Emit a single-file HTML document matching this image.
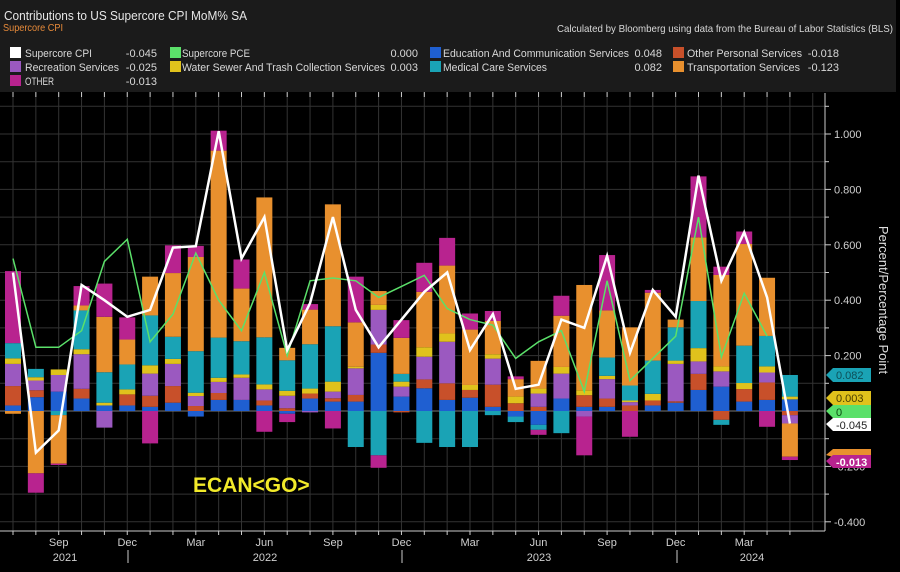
<!DOCTYPE html>
<html><head><meta charset="utf-8">
<style>
html,body{margin:0;padding:0;background:#000;}
body{width:900px;height:567px;overflow:hidden;font-family:"Liberation Sans",sans-serif;}
</style></head>
<body>
<svg id="c" width="900" height="567" xmlns="http://www.w3.org/2000/svg" font-family="Liberation Sans, sans-serif">
<rect x="0" y="0" width="900" height="567" fill="#000"/>
<rect x="0" y="0" width="896" height="92" fill="#1b1b1b"/>
<text x="4" y="20" fill="#e6e6e6" font-size="13" textLength="243" lengthAdjust="spacingAndGlyphs">Contributions to US Supercore CPI MoM% SA</text>
<text x="3" y="31" fill="#e88b3a" font-size="10.5" textLength="60" lengthAdjust="spacingAndGlyphs">Supercore CPI</text>
<text x="557" y="32" fill="#d8d8d8" font-size="10.5" textLength="336" lengthAdjust="spacingAndGlyphs">Calculated by Bloomberg using data from the Bureau of Labor Statistics (BLS)</text>
<g font-size="11" fill="#d8d8d8">
<rect x="10" y="47" width="11" height="11" fill="#fff"/><text x="25" y="57" textLength="67" lengthAdjust="spacingAndGlyphs">Supercore CPI</text><text x="157" y="57" text-anchor="end">-0.045</text>
<rect x="10" y="61" width="11" height="11" fill="#9b59c0"/><text x="25" y="71" textLength="94" lengthAdjust="spacingAndGlyphs">Recreation Services</text><text x="157" y="71" text-anchor="end">-0.025</text>
<rect x="10" y="75" width="11" height="11" fill="#b8238f"/><text x="25" y="85" textLength="29" lengthAdjust="spacingAndGlyphs">OTHER</text><text x="157" y="85" text-anchor="end">-0.013</text>
<rect x="170" y="47" width="11" height="11" fill="#5be06a"/><text x="182" y="57" textLength="68" lengthAdjust="spacingAndGlyphs">Supercore PCE</text><text x="418" y="57" text-anchor="end">0.000</text>
<rect x="170" y="61" width="11" height="11" fill="#e0c21c"/><text x="182" y="71" textLength="203" lengthAdjust="spacingAndGlyphs">Water Sewer And Trash Collection Services</text><text x="418" y="71" text-anchor="end">0.003</text>
<rect x="430" y="47" width="11" height="11" fill="#1f5fd1"/><text x="443" y="57" textLength="186" lengthAdjust="spacingAndGlyphs">Education And Communication Services</text><text x="662" y="57" text-anchor="end">0.048</text>
<rect x="430" y="61" width="11" height="11" fill="#1aa3b5"/><text x="443" y="71" textLength="104" lengthAdjust="spacingAndGlyphs">Medical Care Services</text><text x="662" y="71" text-anchor="end">0.082</text>
<rect x="673" y="47" width="11" height="11" fill="#c8502a"/><text x="687" y="57" textLength="115" lengthAdjust="spacingAndGlyphs">Other Personal Services</text><text x="839" y="57" text-anchor="end">-0.018</text>
<rect x="673" y="61" width="11" height="11" fill="#e8902e"/><text x="687" y="71" textLength="113" lengthAdjust="spacingAndGlyphs">Transportation Services</text><text x="839" y="71" text-anchor="end">-0.123</text>
</g>
<g id="grid"></g>
<g id="bars"></g>
<g id="lines"></g>
<text x="193" y="492" fill="#f2ea2a" font-size="21" font-weight="bold">ECAN&lt;GO&gt;</text>
<line x1="825" y1="93" x2="825" y2="531" stroke="#ccc" stroke-width="1"/>
<line x1="0" y1="531" x2="825" y2="531" stroke="#ccc" stroke-width="1"/>
<g id="axis" font-size="11" fill="#d0d0d0"></g>
<text transform="translate(879,300) rotate(90)" fill="#e0e0e0" font-size="13" text-anchor="middle">Percent/Percentage Point</text>
<g font-size="11">
<polygon points="826,375 833,368 871,368 871,382 833,382" fill="#1aa3b5"/><text x="836" y="379" fill="#0d4f58">0.082</text>
<polygon points="826,398 833,391 871,391 871,405 833,405" fill="#e0c21c"/><text x="836" y="402" fill="#4a3f00">0.003</text>
<polygon points="826,411 833,405 871,405 871,418 833,418" fill="#5be06a"/><text x="836" y="416" fill="#0c4a12">0</text>
<polygon points="826,424 833,418 871,418 871,431 833,431" fill="#fff"/><text x="836" y="429" fill="#222">-0.045</text>
<polygon points="826,455 833,449 871,449 871,457 833,457" fill="#e8902e"/>
<polygon points="826,461 833,455 871,455 871,468 833,468" fill="#b8238f"/><text x="836" y="466" fill="#fff" font-weight="bold">-0.013</text>
</g>
</svg>
<script>
var NS="http://www.w3.org/2000/svg";
function el(p,t,a){var e=document.createElementNS(NS,t);for(var k in a)e.setAttribute(k,a[k]);p.appendChild(e);return e;}
function Y(v){return 411-v*277;}
var X0=13,DX=22.85;
var cols=["#1f5fd1","#c8502a","#9b59c0","#e0c21c","#1aa3b5","#e8902e","#b8238f"];
var B=[
[.02,.07,.08,.02,.055,-.01,.26],
[.05,.025,.035,.012,.03,-.225,-.07],
[.07,0,.06,.02,-.015,-.175,-.005],
[.045,.035,.125,.018,.14,.018,.07],
[.02,0,-.06,.01,.11,.2,.12],
[.02,.04,0,.018,.09,.09,.08],
[.015,.04,.08,.03,.18,.14,-.117],
[.03,.06,.08,.018,.08,.23,.1],
[-.02,.018,.036,.012,.15,.34,.04],
[.04,.025,.04,.015,.145,.675,.072],
[.04,0,.08,.012,.12,.19,.105],
[.02,.018,.04,.018,.17,.505,-.075],
[-.01,.01,.045,.018,.11,.045,-.03],
[.045,.018,-.005,.018,.16,.125,.02],
[.034,.012,.024,.036,.2,.44,-.063],
[.034,.024,.096,.006,-.13,.16,.165],
[.21,.03,.125,.018,-.16,.05,-.045],
[.052,-.005,.036,.018,.028,.13,.064],
[.082,.032,.082,.034,-.115,.2,.105],
[.04,.06,.15,.03,-.13,.245,.1],
[.048,.028,0,.018,-.13,.2,.058],
[.015,.08,.094,.016,-.015,.12,.036],
[-.02,.028,0,.024,-.02,.063,.01],
[-.05,.015,.048,.018,-.018,.1,-.018],
[.045,0,.09,.024,-.08,.185,.072],
[.015,.042,-.02,.018,0,.38,-.14],
[.015,.03,.07,.012,.066,.17,.2],
[0,.02,.012,.006,.054,.21,-.093],
[.02,.018,0,.024,.12,.245,.01],
[.03,.005,.135,.012,.12,.028,0],
[.076,.058,.045,.048,.17,.23,.22],
[.088,-.032,.055,.018,-.018,.33,.03],
[.034,.045,0,.022,.135,.367,.045],
[.04,.063,.036,.022,.11,.21,-.057],
[.042,-.015,-.03,.01,.078,-.12,-.012]];
var W=[.50,-.15,-.07,.455,.40,.34,.365,.59,.595,1.01,.55,.70,.22,.39,.70,.365,.23,.33,.43,.50,.22,.35,.08,.095,.33,.30,.56,.21,.437,.34,.85,.47,.645,.41,-.045];
var G=[.55,.23,.23,.29,.54,.62,.25,.35,.57,.40,.29,.50,.20,.47,.48,.47,.41,.45,.49,.37,.33,.31,.19,.25,.29,.07,.47,.11,.19,.27,.70,.195,.425,.27];
var g=document.getElementById("grid");
for(var v=-0.4;v<=1.11;v+=0.1){el(g,"line",{x1:0,x2:825,y1:Y(v),y2:Y(v),stroke:"#333","stroke-width":1});}
for(var i=0;i<36;i++){var x=X0+i*DX;el(g,"line",{x1:x,x2:x,y1:93,y2:531,stroke:"#333","stroke-width":1});}
el(g,"line",{x1:0,x2:825,y1:Y(0),y2:Y(0),stroke:"#777","stroke-width":1});
var b=document.getElementById("bars");
B.forEach(function(r,i){var x=X0+i*DX-8,p=0,n=0;r.forEach(function(v,k){if(v>0){el(b,"rect",{x:x,y:Y(p+v),width:16,height:v*277,fill:cols[k]});p+=v;}else if(v<0){el(b,"rect",{x:x,y:Y(n),width:16,height:-v*277,fill:cols[k]});n+=v;}});});
var l=document.getElementById("lines");
function pts(a){return a.map(function(v,i){return (X0+i*DX).toFixed(1)+","+Y(v).toFixed(1);}).join(" ");}
el(l,"polyline",{points:pts(G),fill:"none",stroke:"#5be06a","stroke-width":1.5});
el(l,"polyline",{points:pts(W),fill:"none",stroke:"#fff","stroke-width":2.5,"stroke-linejoin":"miter"});
var a=document.getElementById("axis");
[1,.8,.6,.4,.2,-.2,-.4].forEach(function(v){el(a,"line",{x1:825,x2:831,y1:Y(v),y2:Y(v),stroke:"#ccc"});var t=el(a,"text",{x:834,y:Y(v)+4});t.textContent=v.toFixed(3);});
for(var v=-0.3;v<=1.11;v+=0.2){el(a,"line",{x1:825,x2:829,y1:Y(v),y2:Y(v),stroke:"#ccc"});}
for(var i=0;i<35;i++){var x=X0+i*DX;el(a,"line",{x1:x,x2:x,y1:531,y2:535,stroke:"#ccc"});el(a,"line",{x1:x,x2:x,y1:92,y2:97,stroke:"#ccc"});}
var m=[[2,"Sep"],[5,"Dec"],[8,"Mar"],[11,"Jun"],[14,"Sep"],[17,"Dec"],[20,"Mar"],[23,"Jun"],[26,"Sep"],[29,"Dec"],[32,"Mar"]];
m.forEach(function(q){var t=el(a,"text",{x:X0+q[0]*DX,y:546,"text-anchor":"middle"});t.textContent=q[1];});
[[65,"2021"],[265,"2022"],[539,"2023"],[752,"2024"]].forEach(function(q){var t=el(a,"text",{x:q[0],y:561,"text-anchor":"middle"});t.textContent=q[1];});
[128,402,677].forEach(function(x){el(a,"line",{x1:x,x2:x,y1:550,y2:563,stroke:"#ccc"});});
</script>
</body></html>
